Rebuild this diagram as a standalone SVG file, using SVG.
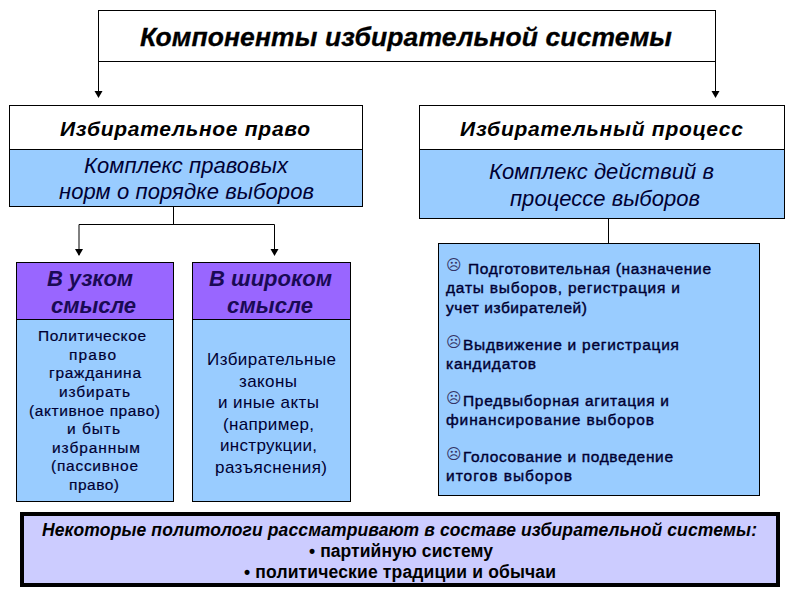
<svg xmlns="http://www.w3.org/2000/svg" width="800" height="600" viewBox="0 0 800 600">
<style>
text{font-family:"Liberation Sans",Arial,sans-serif;text-anchor:middle}
.w{fill:#fff;stroke:#000;stroke-width:1}
.b{fill:#99ccff;stroke:#000;stroke-width:1}
.p{fill:#9966ff;stroke:#000;stroke-width:1}
.c{fill:none;stroke:#000;stroke-width:1}
.h{font-weight:bold;font-style:italic;fill:#000}
.s{font-style:italic;font-size:22px;fill:#000033}
.pt{font-weight:bold;font-style:italic;font-size:22px;fill:#1a0a55}
.d{font-size:15.500px;fill:#000033;stroke:#000033;stroke-width:.2}
.dn{font-size:17px;fill:#000033}
.l{font-size:15.500px;fill:#000033;text-anchor:start;stroke:#000033;stroke-width:.4}
.f{font-family:"DejaVu Sans",sans-serif;font-size:15px;fill:#333366;text-anchor:start}
.n{font-weight:bold;font-size:17.500px;fill:#000}
</style>
<rect width="800" height="600" fill="#fff"/>
<g id="connectors">
<path class="c" d="M98.500 61V97"/>
<path class="c" d="M715.500 61V97"/>
<path class="c" d="M173.500 206V224.500"/>
<path class="c" d="M79 224.500H274.500"/>
<path class="c" d="M79 224.500V255"/>
<path class="c" d="M274.500 224.500V255"/>
<path class="c" d="M608.500 218V243"/>
<path d="M94.500 91H102.500L98.500 98Z"/><path d="M711.500 91H719.500L715.500 98Z"/><path d="M75 249H83L79 256Z"/><path d="M270.500 249H278.500L274.500 256Z"/>
</g>
<g id="title"><rect class="w" x="98.500" y="10.500" width="617" height="51"/><text class="h" x="406" y="46" font-size="26.500" stroke="#000" stroke-width=".3" textLength="532">Компоненты избирательной системы</text></g>
<g id="law"><rect class="w" x="9.500" y="105.500" width="353" height="44"/><text class="h" x="185" y="136" font-size="21" textLength="250">Избирательное право</text>
<rect class="b" x="9.500" y="149.500" width="353" height="57"/><text class="s" x="186" y="173" textLength="204">Комплекс правовых</text><text class="s" x="186.500" y="199" textLength="255">норм о порядке выборов</text></g>
<g id="process"><rect class="w" x="419.500" y="105.500" width="365" height="44"/><text class="h" x="601.500" y="136" font-size="21" textLength="283">Избирательный процесс</text>
<rect class="b" x="419.500" y="149.500" width="365" height="69"/><text class="s" x="601.500" y="179" textLength="225">Комплекс действий в</text><text class="s" x="605" y="206" textLength="190">процессе выборов</text></g>
<g id="narrow"><rect class="p" x="16.500" y="262.500" width="157" height="57"/><text class="pt" x="90" y="286" textLength="86">В узком</text><text class="pt" x="93.500" y="313" textLength="85">смысле</text>
<rect class="b" x="16.500" y="319.500" width="157" height="182"/>
<text class="d" x="92" y="341" textLength="108">Политическое</text><text class="d" x="92.500" y="360" textLength="47">право</text><text class="d" x="95" y="378" textLength="92">гражданина</text><text class="d" x="94.500" y="397" textLength="71">избирать</text><text class="d" x="94.500" y="416" textLength="131">(активное право)</text><text class="d" x="93.500" y="434" textLength="53">и быть</text><text class="d" x="96" y="453" textLength="88">избранным</text><text class="d" x="94.500" y="471" textLength="87">(пассивное</text><text class="d" x="94" y="490" textLength="50">право)</text></g>
<g id="broad"><rect class="p" x="192.500" y="262.500" width="158" height="57"/><text class="pt" x="270.500" y="286" textLength="123">В широком</text><text class="pt" x="270" y="313" textLength="86">смысле</text>
<rect class="b" x="192.500" y="319.500" width="158" height="182"/>
<text class="dn" x="271.500" y="365" textLength="129">Избирательные</text><text class="dn" x="268" y="387" textLength="58">законы</text><text class="dn" x="268.500" y="408" textLength="101">и иные акты</text><text class="dn" x="268.500" y="430" textLength="91">(например,</text><text class="dn" x="268.500" y="451" textLength="97">инструкции,</text><text class="dn" x="271" y="473" textLength="112">разъяснения)</text></g>
<g id="stages"><rect class="b" x="438.500" y="243.500" width="321" height="252"/>
<text class="f" x="446" y="270" font-size="19">☹</text><text class="l" x="468" y="274" textLength="243">Подготовительная (назначение</text><text class="l" x="446" y="293" textLength="234">даты выборов, регистрация и</text><text class="l" x="446" y="313" textLength="141">учет избирателей)</text>
<text class="f" x="446" y="347">☹</text><text class="l" x="463" y="350" textLength="216">Выдвижение и регистрация</text><text class="l" x="446" y="369" textLength="90">кандидатов</text>
<text class="f" x="446" y="403">☹</text><text class="l" x="463" y="406" textLength="206">Предвыборная агитация и</text><text class="l" x="446" y="425" textLength="208">финансирование выборов</text>
<text class="f" x="446" y="459">☹</text><text class="l" x="463" y="462" textLength="210">Голосование и подведение</text><text class="l" x="446" y="481" textLength="126">итогов выборов</text></g>
<g id="note"><rect x="22" y="514" width="756" height="71" fill="#ccccff" stroke="#000" stroke-width="4"/>
<text class="n" x="399.500" y="536" font-style="italic" textLength="715">Некоторые политологи рассматривают в составе избирательной системы:</text>
<text class="n" x="401" y="557" textLength="184">• партийную систему</text><text class="n" x="400" y="578" textLength="312">• политические традиции и обычаи</text></g>
</svg>
